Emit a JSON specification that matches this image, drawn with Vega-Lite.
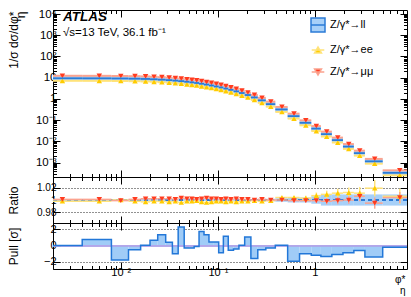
{
  "$schema": "https://vega.github.io/schema/vega-lite/v6.json",
  "padding": {"left": 6, "top": 7, "right": 5, "bottom": 0},
  "spacing": 0,
  "bounds": "flush",
  "background": "white",
  "datasets": {
    "bins": [
      {"b":1,"xlo":0.002,"xhi":0.004,"xc":0.0025,"ll":9.4,"ee":9.38,"mm":9.41,"rlo":0.9985,"rhi":1.0015,"ree":0.998,"eree":0.002,"rmm":1.001,"ermm":0.0015,"pull":0.0},
      {"b":2,"xlo":0.004,"xhi":0.008,"xc":0.006,"ll":9.35,"ee":9.33,"mm":9.36,"rlo":0.9985,"rhi":1.0015,"ree":0.998,"eree":0.002,"rmm":1.001,"ermm":0.0015,"pull":0.75},
      {"b":3,"xlo":0.008,"xhi":0.012,"xc":0.010,"ll":9.2,"ee":9.2,"mm":9.19,"rlo":0.9985,"rhi":1.0015,"ree":1.000,"eree":0.002,"rmm":0.999,"ermm":0.0015,"pull":-1.8},
      {"b":4,"xlo":0.012,"xhi":0.016,"xc":0.014,"ll":9.0,"ee":8.98,"mm":9.01,"rlo":0.9985,"rhi":1.0015,"ree":0.998,"eree":0.002,"rmm":1.001,"ermm":0.0015,"pull":-0.5},
      {"b":5,"xlo":0.016,"xhi":0.020,"xc":0.018,"ll":8.75,"ee":8.72,"mm":8.77,"rlo":0.9985,"rhi":1.0015,"ree":0.997,"eree":0.002,"rmm":1.002,"ermm":0.0015,"pull":0.05},
      {"b":6,"xlo":0.020,"xhi":0.024,"xc":0.022,"ll":8.45,"ee":8.43,"mm":8.47,"rlo":0.9985,"rhi":1.0015,"ree":0.998,"eree":0.002,"rmm":1.002,"ermm":0.0015,"pull":0.65},
      {"b":7,"xlo":0.024,"xhi":0.029,"xc":0.0265,"ll":8.1,"ee":8.08,"mm":8.12,"rlo":0.9985,"rhi":1.0015,"ree":0.998,"eree":0.002,"rmm":1.002,"ermm":0.0015,"pull":1.35},
      {"b":8,"xlo":0.029,"xhi":0.034,"xc":0.0315,"ll":7.7,"ee":7.68,"mm":7.72,"rlo":0.9985,"rhi":1.0015,"ree":0.997,"eree":0.002,"rmm":1.002,"ermm":0.0015,"pull":0.4},
      {"b":9,"xlo":0.034,"xhi":0.039,"xc":0.0365,"ll":7.3,"ee":7.29,"mm":7.31,"rlo":0.9985,"rhi":1.0015,"ree":0.998,"eree":0.002,"rmm":1.001,"ermm":0.0015,"pull":-1.0},
      {"b":10,"xlo":0.039,"xhi":0.045,"xc":0.042,"ll":6.9,"ee":6.87,"mm":6.92,"rlo":0.9985,"rhi":1.0015,"ree":0.996,"eree":0.002,"rmm":1.003,"ermm":0.0015,"pull":2.3},
      {"b":11,"xlo":0.045,"xhi":0.051,"xc":0.048,"ll":6.45,"ee":6.44,"mm":6.46,"rlo":0.9985,"rhi":1.0015,"ree":0.998,"eree":0.002,"rmm":1.002,"ermm":0.0015,"pull":-0.3},
      {"b":12,"xlo":0.051,"xhi":0.057,"xc":0.054,"ll":6.05,"ee":6.04,"mm":6.06,"rlo":0.9985,"rhi":1.0015,"ree":0.998,"eree":0.002,"rmm":1.002,"ermm":0.0015,"pull":-0.3},
      {"b":13,"xlo":0.057,"xhi":0.064,"xc":0.0605,"ll":5.65,"ee":5.64,"mm":5.66,"rlo":0.9985,"rhi":1.0015,"ree":0.999,"eree":0.002,"rmm":1.001,"ermm":0.0015,"pull":-0.1},
      {"b":14,"xlo":0.064,"xhi":0.072,"xc":0.068,"ll":5.2,"ee":5.18,"mm":5.21,"rlo":0.9985,"rhi":1.0015,"ree":0.997,"eree":0.002,"rmm":1.002,"ermm":0.0015,"pull":1.75},
      {"b":15,"xlo":0.072,"xhi":0.081,"xc":0.0765,"ll":4.75,"ee":4.73,"mm":4.76,"rlo":0.9985,"rhi":1.0015,"ree":0.996,"eree":0.002,"rmm":1.003,"ermm":0.0015,"pull":1.35},
      {"b":16,"xlo":0.081,"xhi":0.091,"xc":0.086,"ll":4.3,"ee":4.29,"mm":4.31,"rlo":0.9985,"rhi":1.0015,"ree":0.997,"eree":0.002,"rmm":1.002,"ermm":0.0015,"pull":0.45},
      {"b":17,"xlo":0.091,"xhi":0.102,"xc":0.0965,"ll":3.88,"ee":3.87,"mm":3.89,"rlo":0.9985,"rhi":1.0015,"ree":0.998,"eree":0.002,"rmm":1.002,"ermm":0.0015,"pull":0.45},
      {"b":18,"xlo":0.102,"xhi":0.114,"xc":0.108,"ll":3.48,"ee":3.47,"mm":3.48,"rlo":0.9985,"rhi":1.0015,"ree":0.998,"eree":0.002,"rmm":1.001,"ermm":0.0015,"pull":-0.9},
      {"b":19,"xlo":0.114,"xhi":0.128,"xc":0.121,"ll":3.08,"ee":3.07,"mm":3.09,"rlo":0.9985,"rhi":1.0015,"ree":0.997,"eree":0.002,"rmm":1.002,"ermm":0.0015,"pull":1.15},
      {"b":20,"xlo":0.128,"xhi":0.145,"xc":0.1365,"ll":2.68,"ee":2.67,"mm":2.68,"rlo":0.9985,"rhi":1.0015,"ree":0.998,"eree":0.002,"rmm":1.001,"ermm":0.0015,"pull":-0.58},
      {"b":21,"xlo":0.145,"xhi":0.165,"xc":0.155,"ll":2.28,"ee":2.27,"mm":2.28,"rlo":0.9985,"rhi":1.0015,"ree":0.997,"eree":0.002,"rmm":1.002,"ermm":0.0015,"pull":-0.42},
      {"b":22,"xlo":0.165,"xhi":0.189,"xc":0.177,"ll":1.9,"ee":1.9,"mm":1.9,"rlo":0.9985,"rhi":1.0015,"ree":0.998,"eree":0.002,"rmm":1.001,"ermm":0.0015,"pull":0.04},
      {"b":23,"xlo":0.189,"xhi":0.219,"xc":0.204,"ll":1.53,"ee":1.53,"mm":1.53,"rlo":0.9985,"rhi":1.0015,"ree":0.998,"eree":0.002,"rmm":1.001,"ermm":0.0015,"pull":1.07},
      {"b":24,"xlo":0.219,"xhi":0.258,"xc":0.2385,"ll":1.18,"ee":1.18,"mm":1.18,"rlo":0.9985,"rhi":1.0015,"ree":0.999,"eree":0.002,"rmm":1.000,"ermm":0.0015,"pull":-1.6},
      {"b":25,"xlo":0.258,"xhi":0.312,"xc":0.285,"ll":0.86,"ee":0.86,"mm":0.86,"rlo":0.998,"rhi":1.002,"ree":0.998,"eree":0.002,"rmm":1.001,"ermm":0.0015,"pull":-0.5},
      {"b":26,"xlo":0.312,"xhi":0.391,"xc":0.3515,"ll":0.57,"ee":0.57,"mm":0.57,"rlo":0.998,"rhi":1.002,"ree":0.999,"eree":0.002,"rmm":1.000,"ermm":0.0015,"pull":-0.3},
      {"b":27,"xlo":0.391,"xhi":0.524,"xc":0.4575,"ll":0.32,"ee":0.321,"mm":0.32,"rlo":0.997,"rhi":1.003,"ree":1.004,"eree":0.003,"rmm":1.000,"ermm":0.002,"pull":0.04},
      {"b":28,"xlo":0.524,"xhi":0.695,"xc":0.6095,"ll":0.155,"ee":0.1556,"mm":0.1548,"rlo":0.996,"rhi":1.004,"ree":1.004,"eree":0.003,"rmm":0.999,"ermm":0.003,"pull":-1.94},
      {"b":29,"xlo":0.695,"xhi":0.918,"xc":0.8065,"ll":0.075,"ee":0.0752,"mm":0.0749,"rlo":0.996,"rhi":1.004,"ree":1.003,"eree":0.004,"rmm":0.999,"ermm":0.003,"pull":-1.0},
      {"b":30,"xlo":0.918,"xhi":1.153,"xc":1.0355,"ll":0.040,"ee":0.0403,"mm":0.040,"rlo":0.994,"rhi":1.006,"ree":1.007,"eree":0.005,"rmm":0.999,"ermm":0.004,"pull":-1.2},
      {"b":31,"xlo":1.153,"xhi":1.496,"xc":1.3245,"ll":0.022,"ee":0.0222,"mm":0.022,"rlo":0.991,"rhi":1.009,"ree":1.009,"eree":0.006,"rmm":0.998,"ermm":0.005,"pull":-1.36},
      {"b":32,"xlo":1.496,"xhi":1.947,"xc":1.7215,"ll":0.0115,"ee":0.0116,"mm":0.0115,"rlo":0.991,"rhi":1.009,"ree":1.011,"eree":0.007,"rmm":0.999,"ermm":0.006,"pull":-1.1},
      {"b":33,"xlo":1.947,"xhi":2.522,"xc":2.2345,"ll":0.0057,"ee":0.0058,"mm":0.0057,"rlo":0.991,"rhi":1.009,"ree":1.012,"eree":0.008,"rmm":1.000,"ermm":0.006,"pull":-0.9},
      {"b":34,"xlo":2.522,"xhi":3.277,"xc":2.8995,"ll":0.0028,"ee":0.0028,"mm":0.0028,"rlo":0.991,"rhi":1.009,"ree":1.011,"eree":0.010,"rmm":1.006,"ermm":0.008,"pull":-0.6},
      {"b":35,"xlo":3.277,"xhi":5.0,"xc":4.1385,"ll":0.00115,"ee":0.00117,"mm":0.00114,"rlo":0.991,"rhi":1.009,"ree":1.019,"eree":0.013,"rmm":0.995,"ermm":0.009,"pull":-1.4},
      {"b":36,"xlo":5.0,"xhi":10.0,"xc":7.5,"ll":0.00033,"ee":0.00033,"mm":0.00033,"rlo":0.991,"rhi":1.009,"ree":1.006,"eree":0.012,"rmm":1.004,"ermm":0.009,"pull":-0.2}
    ]
  },
  "config": {
    "font": "Liberation Sans",
    "view": {"stroke": "black", "strokeWidth": 1},
    "axis": {"domain": false, "grid": false, "tickColor": "black", "tickWidth": 1, "labelColor": "black", "labelFont": "Liberation Sans", "labelFontSize": 11, "titleFont": "Liberation Sans", "titleFontWeight": "normal", "titleColor": "black", "titleFontSize": 12, "labelOverlap": false, "labelFlush": false}
  },
  "vconcat": [
    {
      "width": 354, "height": 167,
      "data": {"name": "bins"},
      "title": {"text": "ATLAS", "subtitle": "√s=13 TeV, 36.1 fb⁻¹", "anchor": "start", "frame": "group", "offset": -30, "dx": 10, "font": "Liberation Sans", "fontSize": 13.5, "fontStyle": "italic", "fontWeight": "bold", "color": "black", "subtitleFont": "Liberation Sans", "subtitleFontSize": 11.5, "subtitleColor": "black", "subtitlePadding": 3},
      "resolve": {"axis": {"x": "independent", "y": "independent"}},
      "layer": [
        {
          "mark": {"type": "rule", "color": "#a7d0f8", "strokeWidth": 5, "clip": true},
          "encoding": {
            "x": {"field": "xlo", "type": "quantitative", "scale": {"type": "log", "domain": [0.002, 8.9], "nice": false},
              "axis": {"orient": "bottom", "labels": false, "title": null, "values": [0.002,0.003,0.004,0.005,0.006,0.007,0.008,0.009,0.01,0.02,0.03,0.04,0.05,0.06,0.07,0.08,0.09,0.1,0.2,0.3,0.4,0.5,0.6,0.7,0.8,0.9,1,2,3,4,5,6,7,8],
                "tickSize": {"condition": {"test": "abs(log(datum.value)/LN10 - round(log(datum.value)/LN10)) < 0.0001", "value": -7}, "value": -3.5}}},
            "x2": {"field": "xhi"},
            "y": {"field": "ll", "type": "quantitative", "scale": {"type": "log", "domain": [0.00021, 15500], "nice": false},
              "axis": {"orient": "left", "values": [0.0003,0.0004,0.0005,0.0006,0.0007,0.0008,0.0009,0.001,0.002,0.003,0.004,0.005,0.006,0.007,0.008,0.009,0.01,0.02,0.03,0.04,0.05,0.06,0.07,0.08,0.09,0.1,0.2,0.3,0.4,0.5,0.6,0.7,0.8,0.9,1,2,3,4,5,6,7,8,9,10,20,30,40,50,60,70,80,90,100,200,300,400,500,600,700,800,900,1000,2000,3000,4000,5000,6000,7000,8000,9000,10000],
                "labelExpr": "datum.value == 10000 ? '10⁴' : datum.value == 1000 ? '10³' : datum.value == 100 ? '10²' : datum.value == 10 ? '10' : datum.value == 1 ? '1' : datum.value == 0.1 ? '10⁻¹' : datum.value == 0.01 ? '10⁻²' : datum.value == 0.001 ? '10⁻³' : ''",
                "labelPadding": 4, "labelFontSize": 11.5,
                "tickSize": {"condition": {"test": "abs(log(datum.value)/LN10 - round(log(datum.value)/LN10)) < 0.0001", "value": -7}, "value": -3.5},
                "title": ["1/σ dσ/dφ*", "η"], "titleAngle": 270, "titleAlign": "right", "titleBaseline": "alphabetic", "titleX": -36, "titleY": 1, "titleLineHeight": 7}}
          }
        },
        {
          "mark": {"type": "rule", "color": "#ffe37a", "strokeWidth": 2, "yOffset": 2.5, "clip": true},
          "encoding": {"x": {"field": "xlo", "type": "quantitative", "axis": null}, "x2": {"field": "xhi"}, "y": {"field": "ee", "type": "quantitative", "axis": null}}
        },
        {
          "mark": {"type": "rule", "color": "#fba38f", "strokeWidth": 2, "yOffset": -2.5, "clip": true},
          "encoding": {"x": {"field": "xlo", "type": "quantitative", "axis": null}, "x2": {"field": "xhi"}, "y": {"field": "mm", "type": "quantitative", "axis": null}}
        },
        {
          "mark": {"type": "point", "filled": true, "size": 120, "opacity": 1, "strokeWidth": 0, "yOffset": 2.5},
          "encoding": {
            "x": {"field": "xc", "type": "quantitative", "axis": null},
            "y": {"field": "ee", "type": "quantitative", "axis": null},
            "color": {"datum": "Z/γ*→ee", "type": "nominal", "scale": {"domain": ["Z/γ*→ll", "Z/γ*→ee", "Z/γ*→μμ"], "range": ["#a7d0f8", "#ffcc00", "#ff3b1f"]},
              "legend": {"orient": "none", "legendX": 257, "legendY": 7, "title": null, "padding": 0, "labelFont": "Liberation Sans", "labelFontSize": 11, "labelColor": "black", "labelOffset": 4, "symbolSize": 196, "rowPadding": 7, "symbolStrokeWidth": 1.5, "symbolOpacity": 1}},
            "shape": {"datum": "Z/γ*→ee", "type": "nominal", "scale": {"domain": ["Z/γ*→ll", "Z/γ*→ee", "Z/γ*→μμ"], "range": ["M-1,-1H1V1H-1Z M-1,0H1", "M-0.5,0.43L0,-0.43L0.5,0.43Z M-0.9,0H0.9", "M-0.5,-0.43L0,0.43L0.5,-0.43Z M-0.9,0H0.9"]},
              "legend": {"orient": "none", "legendX": 257, "legendY": 7, "title": null, "padding": 0, "labelFont": "Liberation Sans", "labelFontSize": 11, "labelColor": "black", "labelOffset": 4, "symbolSize": 196, "rowPadding": 7, "symbolStrokeWidth": 1.5, "symbolOpacity": 1}},
            "stroke": {"datum": "Z/γ*→ee", "type": "nominal", "scale": {"domain": ["Z/γ*→ll", "Z/γ*→ee", "Z/γ*→μμ"], "range": ["#2b7bd6", "#ffe37a", "#fba38f"]},
              "legend": {"orient": "none", "legendX": 257, "legendY": 7, "title": null, "padding": 0, "labelFont": "Liberation Sans", "labelFontSize": 11, "labelColor": "black", "labelOffset": 4, "symbolSize": 196, "rowPadding": 7, "symbolStrokeWidth": 1.5, "symbolOpacity": 1}}
          }
        },
        {
          "mark": {"type": "point", "filled": true, "size": 120, "opacity": 1, "strokeWidth": 0, "yOffset": -2.5},
          "encoding": {
            "x": {"field": "xc", "type": "quantitative", "axis": null},
            "y": {"field": "mm", "type": "quantitative", "axis": null},
            "color": {"datum": "Z/γ*→μμ", "type": "nominal"},
            "shape": {"datum": "Z/γ*→μμ", "type": "nominal"},
            "stroke": {"datum": "Z/γ*→μμ", "type": "nominal"}
          }
        },
        {
          "mark": {"type": "rule", "color": "#2b7bd6", "strokeWidth": 1.8, "clip": true},
          "encoding": {
            "x": {"field": "xlo", "type": "quantitative",
              "axis": {"orient": "top", "labels": false, "title": null, "values": [0.002,0.003,0.004,0.005,0.006,0.007,0.008,0.009,0.01,0.02,0.03,0.04,0.05,0.06,0.07,0.08,0.09,0.1,0.2,0.3,0.4,0.5,0.6,0.7,0.8,0.9,1,2,3,4,5,6,7,8],
                "tickSize": {"condition": {"test": "abs(log(datum.value)/LN10 - round(log(datum.value)/LN10)) < 0.0001", "value": -7}, "value": -3.5}}},
            "x2": {"field": "xhi"},
            "y": {"field": "ll", "type": "quantitative",
              "axis": {"orient": "right", "labels": false, "title": null, "values": [0.0003,0.0004,0.0005,0.0006,0.0007,0.0008,0.0009,0.001,0.002,0.003,0.004,0.005,0.006,0.007,0.008,0.009,0.01,0.02,0.03,0.04,0.05,0.06,0.07,0.08,0.09,0.1,0.2,0.3,0.4,0.5,0.6,0.7,0.8,0.9,1,2,3,4,5,6,7,8,9,10,20,30,40,50,60,70,80,90,100,200,300,400,500,600,700,800,900,1000,2000,3000,4000,5000,6000,7000,8000,9000,10000],
                "tickSize": {"condition": {"test": "abs(log(datum.value)/LN10 - round(log(datum.value)/LN10)) < 0.0001", "value": -7}, "value": -3.5}}}
          }
        }
      ]
    },
    {
      "width": 354, "height": 46,
      "data": {"name": "bins"},
      "resolve": {"axis": {"x": "independent", "y": "independent"}},
      "layer": [
        {
          "mark": {"type": "rect", "color": "#a7d0f8", "clip": true},
          "encoding": {
            "x": {"field": "xlo", "type": "quantitative", "scale": {"type": "log", "domain": [0.002, 8.9], "nice": false},
              "axis": {"orient": "bottom", "labels": false, "title": null, "values": [0.002,0.003,0.004,0.005,0.006,0.007,0.008,0.009,0.01,0.02,0.03,0.04,0.05,0.06,0.07,0.08,0.09,0.1,0.2,0.3,0.4,0.5,0.6,0.7,0.8,0.9,1,2,3,4,5,6,7,8],
                "tickSize": {"condition": {"test": "abs(log(datum.value)/LN10 - round(log(datum.value)/LN10)) < 0.0001", "value": -7}, "value": -3.5}}},
            "x2": {"field": "xhi"},
            "y": {"field": "rlo", "type": "quantitative", "scale": {"domain": [0.963, 1.037], "nice": false, "zero": false},
              "axis": {"orient": "left", "values": [0.98, 1, 1.02], "labelExpr": "datum.value == 1 ? '1' : format(datum.value, '.2f')", "labelFontSize": 10, "labelPadding": 4, "tickSize": -7,
                "grid": true, "gridColor": "#222", "gridDash": [1, 2], "gridWidth": 1, "gridOpacity": {"condition": {"test": "datum.value == 1", "value": 0}, "value": 1},
                "title": "Ratio", "titleAngle": 270, "titleAlign": "center", "titleBaseline": "alphabetic", "titleX": -36, "titleY": 23}},
            "y2": {"field": "rhi"}
          }
        },
        {
          "mark": {"type": "rule", "color": "#2b7bd6", "strokeDash": [4, 3], "strokeWidth": 1.3},
          "encoding": {"y": {"datum": 1, "type": "quantitative", "axis": null}}
        },
        {
          "mark": {"type": "rule", "color": "#ffe37a", "strokeWidth": 1.5, "clip": true},
          "encoding": {"x": {"field": "xlo", "type": "quantitative", "axis": null}, "x2": {"field": "xhi"}, "y": {"field": "ree", "type": "quantitative", "axis": null}}
        },
        {
          "mark": {"type": "errorbar", "color": "#ffe37a", "thickness": 1.5},
          "encoding": {"x": {"field": "xc", "type": "quantitative", "axis": null}, "y": {"field": "ree", "type": "quantitative", "axis": null}, "yError": {"field": "eree"}}
        },
        {
          "mark": {"type": "rule", "color": "#fba38f", "strokeWidth": 1.5, "clip": true},
          "encoding": {"x": {"field": "xlo", "type": "quantitative", "axis": null}, "x2": {"field": "xhi"}, "y": {"field": "rmm", "type": "quantitative", "axis": null}}
        },
        {
          "mark": {"type": "errorbar", "color": "#fba38f", "thickness": 1.5},
          "encoding": {"x": {"field": "xc", "type": "quantitative", "axis": null}, "y": {"field": "rmm", "type": "quantitative", "axis": null}, "yError": {"field": "ermm"}}
        },
        {
          "mark": {"type": "point", "filled": true, "size": 120, "opacity": 1, "strokeWidth": 0},
          "encoding": {
            "x": {"field": "xc", "type": "quantitative", "axis": null},
            "y": {"field": "ree", "type": "quantitative", "axis": null},
            "color": {"datum": "Z/γ*→ee", "type": "nominal", "scale": {"domain": ["Z/γ*→ll", "Z/γ*→ee", "Z/γ*→μμ"], "range": ["#a7d0f8", "#ffcc00", "#ff3b1f"]}, "legend": null},
            "shape": {"datum": "Z/γ*→ee", "type": "nominal", "scale": {"domain": ["Z/γ*→ll", "Z/γ*→ee", "Z/γ*→μμ"], "range": ["M-1,-1H1V1H-1Z M-1,0H1", "M-0.5,0.43L0,-0.43L0.5,0.43Z M-0.9,0H0.9", "M-0.5,-0.43L0,0.43L0.5,-0.43Z M-0.9,0H0.9"]}, "legend": null}
          }
        },
        {
          "mark": {"type": "point", "filled": true, "size": 120, "opacity": 1, "strokeWidth": 0},
          "encoding": {
            "x": {"field": "xc", "type": "quantitative",
              "axis": {"orient": "top", "labels": false, "title": null, "values": [0.002,0.003,0.004,0.005,0.006,0.007,0.008,0.009,0.01,0.02,0.03,0.04,0.05,0.06,0.07,0.08,0.09,0.1,0.2,0.3,0.4,0.5,0.6,0.7,0.8,0.9,1,2,3,4,5,6,7,8],
                "tickSize": {"condition": {"test": "abs(log(datum.value)/LN10 - round(log(datum.value)/LN10)) < 0.0001", "value": -7}, "value": -3.5}}},
            "y": {"field": "rmm", "type": "quantitative", "axis": {"orient": "right", "labels": false, "title": null, "values": [0.98, 1, 1.02], "tickSize": -7}},
            "color": {"datum": "Z/γ*→μμ", "type": "nominal", "legend": null},
            "shape": {"datum": "Z/γ*→μμ", "type": "nominal", "legend": null}
          }
        }
      ]
    },
    {
      "width": 354, "height": 46,
      "data": {"name": "bins"},
      "resolve": {"axis": {"x": "independent", "y": "independent"}},
      "layer": [
        {
          "mark": {"type": "rect", "color": "#a0ccf7", "clip": true},
          "encoding": {
            "x": {"field": "xlo", "type": "quantitative", "scale": {"type": "log", "domain": [0.002, 8.9], "nice": false},
              "axis": {"orient": "bottom", "values": [0.002,0.003,0.004,0.005,0.006,0.007,0.008,0.009,0.01,0.02,0.03,0.04,0.05,0.06,0.07,0.08,0.09,0.1,0.2,0.3,0.4,0.5,0.6,0.7,0.8,0.9,1,2,3,4,5,6,7,8],
                "labelExpr": "datum.value == 0.01 ? '10⁻²' : datum.value == 0.1 ? '10⁻¹' : datum.value == 1 ? '1' : ''",
                "labelPadding": 4,
                "tickSize": {"condition": {"test": "abs(log(datum.value)/LN10 - round(log(datum.value)/LN10)) < 0.0001", "value": -7}, "value": -3.5},
                "title": ["φ*", "η"], "titleAlign": "right", "titleBaseline": "alphabetic", "titleX": 352, "titleY": 13, "titleFontSize": 10, "titleLineHeight": 11}},
            "x2": {"field": "xhi"},
            "y": {"field": "pull", "type": "quantitative", "scale": {"domain": [-2.9, 2.8], "nice": false, "zero": false},
              "axis": {"orient": "left", "values": [-2, 0, 2], "labelExpr": "datum.value < 0 ? '−' + abs(datum.value) : '' + datum.value", "labelPadding": 4, "tickSize": -7,
                "grid": true, "gridColor": "#222", "gridDash": [1, 2], "gridWidth": 1, "gridOpacity": {"condition": {"test": "datum.value == 0", "value": 0}, "value": 1},
                "title": "Pull [σ]", "titleAngle": 270, "titleAlign": "center", "titleBaseline": "alphabetic", "titleX": -36, "titleY": 23}},
            "y2": {"datum": 0}
          }
        },
        {
          "mark": {"type": "rule", "color": "#b3a6ea", "strokeWidth": 1},
          "encoding": {"y": {"datum": 0, "type": "quantitative", "axis": null}}
        },
        {
          "transform": [{"fold": ["xlo", "xhi"], "as": ["edge", "xe"]}],
          "mark": {"type": "line", "color": "#2277d8", "strokeWidth": 1.5, "clip": true},
          "encoding": {
            "x": {"field": "xe", "type": "quantitative",
              "axis": {"orient": "top", "labels": false, "title": null, "values": [0.002,0.003,0.004,0.005,0.006,0.007,0.008,0.009,0.01,0.02,0.03,0.04,0.05,0.06,0.07,0.08,0.09,0.1,0.2,0.3,0.4,0.5,0.6,0.7,0.8,0.9,1,2,3,4,5,6,7,8],
                "tickSize": {"condition": {"test": "abs(log(datum.value)/LN10 - round(log(datum.value)/LN10)) < 0.0001", "value": -7}, "value": -3.5}}},
            "y": {"field": "pull", "type": "quantitative", "axis": {"orient": "right", "labels": false, "title": null, "values": [-2, 0, 2], "tickSize": -7}},
            "order": [{"field": "b", "type": "quantitative"}, {"field": "xe", "type": "quantitative"}]
          }
        }
      ]
    }
  ]
}
